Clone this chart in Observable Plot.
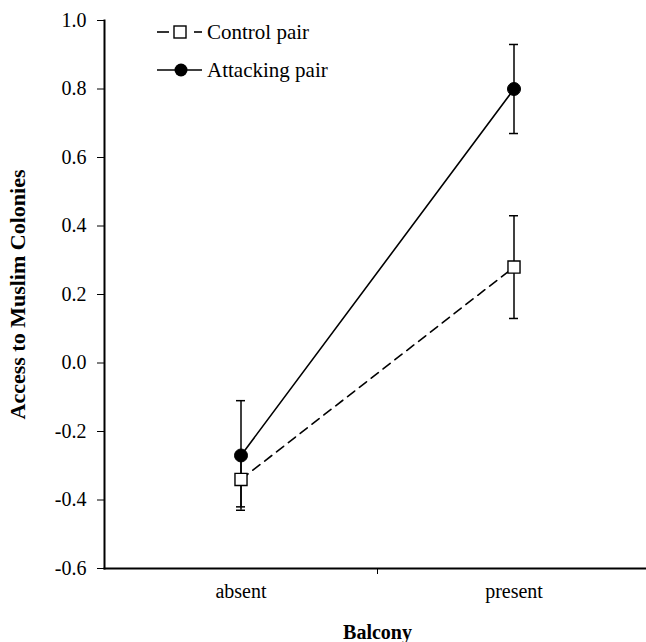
<!DOCTYPE html>
<html>
<head>
<meta charset="utf-8">
<script src="https://cdn.jsdelivr.net/npm/d3@7"></script>
<script src="https://cdn.jsdelivr.net/npm/@observablehq/plot@0.6"></script>
<style>
  html, body { margin: 0; padding: 0; background: #fff; }
  #chart { position: relative; width: 646px; height: 642px; }
</style>
</head>
<body>
<div id="chart"></div>
<script>
// ---- data ----
const categories = ["absent", "present"];
const seriesNames = ["Control pair", "Attacking pair"];
const controlMeans = [-0.34, 0.28];
const controlErr = [0.08, 0.15];
const attackingMeans = [-0.27, 0.80];
const attackingErr = [0.16, 0.13];
const yTicks = [-0.6, -0.4, -0.2, 0.0, 0.2, 0.4, 0.6, 0.8, 1.0];
const yLabel = "Access to Muslim Colonies";
const xLabel = "Balcony";

const rows = [];
categories.forEach((c, i) => {
  rows.push({series: seriesNames[0], cat: c, mean: controlMeans[i], err: controlErr[i]});
  rows.push({series: seriesNames[1], cat: c, mean: attackingMeans[i], err: attackingErr[i]});
});
const control = rows.filter(d => d.series === seriesNames[0]);
const attacking = rows.filter(d => d.series === seriesNames[1]);

const W = 646, H = 642;
const mL = 104, mT = 20, mB = 74;
const xRange = [mL, 650];
const band = (xRange[1] - xRange[0]) / categories.length;
const capW = 9;
const font = "Liberation Serif";
const fs = 20;

const plot = Plot.plot({
  width: W,
  height: H,
  marginLeft: mL,
  marginRight: 0,
  marginTop: mT,
  marginBottom: mB,
  style: {fontFamily: font, fontSize: fs + "px", color: "#000", background: "#fff"},
  x: {type: "band", domain: categories, range: xRange, padding: 0, axis: null, label: null},
  y: {domain: [yTicks[0], yTicks[yTicks.length - 1]], axis: null, label: null},
  marks: [
    // axes
    Plot.axisY({ticks: yTicks, tickFormat: d => d.toFixed(1), tickSize: 7, tickPadding: 11,
      tickStrokeWidth: 1.5, fontSize: fs, fontFamily: font, label: null}),
    Plot.axisX({ticks: categories, tickSize: 0, tickPadding: 15, fontSize: fs, fontFamily: font, label: null}),
    Plot.axisX({ticks: categories.slice(1), text: null, tickSize: 6, dx: -band / 2, tickStrokeWidth: 1.5, label: null}),
    Plot.frame({anchor: "left", strokeWidth: 2}),
    Plot.frame({anchor: "bottom", strokeWidth: 2}),
    // error bars
    Plot.ruleX(rows, {x: "cat", y1: d => d.mean - d.err, y2: d => d.mean + d.err, strokeWidth: 1.5}),
    Plot.tickY(rows, {x: "cat", y: d => d.mean - d.err, insetLeft: (band - capW) / 2, insetRight: (band - capW) / 2, strokeWidth: 1.5}),
    Plot.tickY(rows, {x: "cat", y: d => d.mean + d.err, insetLeft: (band - capW) / 2, insetRight: (band - capW) / 2, strokeWidth: 1.5}),
    // lines
    Plot.line(control, {x: "cat", y: "mean", stroke: "#000", strokeWidth: 1.6, strokeDasharray: "9,6"}),
    Plot.line(attacking, {x: "cat", y: "mean", stroke: "#000", strokeWidth: 1.6}),
    // markers
    Plot.dot(control, {x: "cat", y: "mean", symbol: "square", r: 6.8, fill: "#fff", stroke: "#000", strokeWidth: 1.4}),
    Plot.dot(attacking, {x: "cat", y: "mean", symbol: "circle", r: 6.5, fill: "#000", stroke: "#000", strokeWidth: 1}),
    // axis titles
    Plot.text([yLabel], {text: d => d, frameAnchor: "left", dx: -87, rotate: -90, fontWeight: "bold", fontSize: 22, fontFamily: font, textAnchor: "middle"}),
    Plot.text([xLabel], {text: d => d, frameAnchor: "bottom", dx: 2, dy: 64, fontWeight: "bold", fontSize: fs, fontFamily: font, textAnchor: "middle", lineAnchor: "middle"})
  ]
});

// legend inside the plot area
const svg = d3.select(plot);
const lg = svg.append("g");
const rowsY = [32, 70];
// control pair
lg.append("line").attr("x1", 157).attr("x2", 169).attr("y1", rowsY[0]).attr("y2", rowsY[0]).attr("stroke", "#000").attr("stroke-width", 1.6);
lg.append("line").attr("x1", 194).attr("x2", 202).attr("y1", rowsY[0]).attr("y2", rowsY[0]).attr("stroke", "#000").attr("stroke-width", 1.6);
lg.append("rect").attr("x", 174).attr("y", rowsY[0] - 6).attr("width", 12).attr("height", 12).attr("fill", "#fff").attr("stroke", "#000").attr("stroke-width", 1.4);
// attacking pair
lg.append("line").attr("x1", 157).attr("x2", 202).attr("y1", rowsY[1]).attr("y2", rowsY[1]).attr("stroke", "#000").attr("stroke-width", 1.6);
lg.append("circle").attr("cx", 181).attr("cy", rowsY[1]).attr("r", 6.5).attr("fill", "#000");
seriesNames.forEach((s, i) => {
  lg.append("text").attr("x", 207).attr("y", rowsY[i]).attr("dy", "0.35em")
    .style("text-anchor", "start").style("font-family", font).style("font-size", "21px")
    .attr("fill", "#000").text(s);
});

document.getElementById("chart").appendChild(plot);
</script>
</body>
</html>
